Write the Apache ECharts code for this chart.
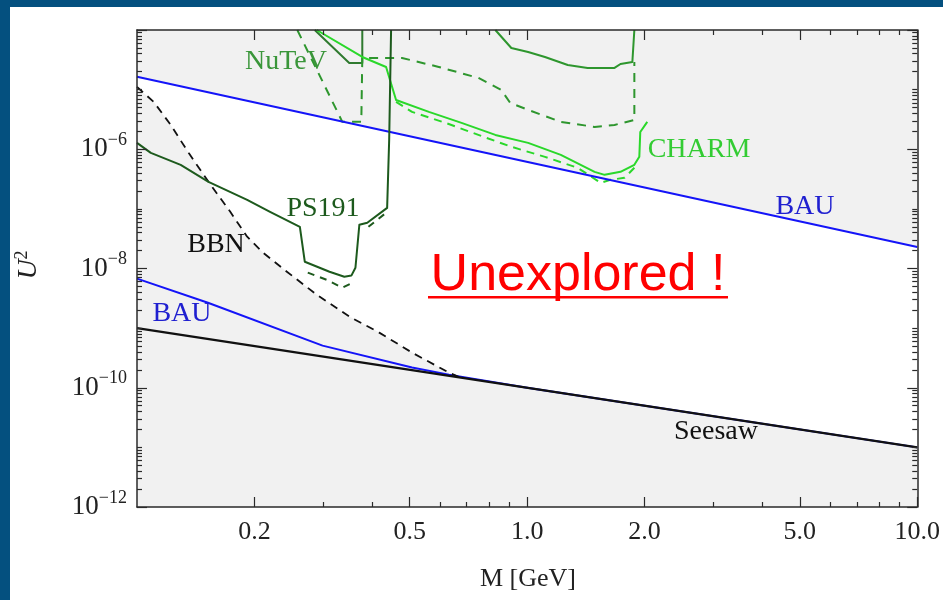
<!DOCTYPE html>
<html><head><meta charset="utf-8">
<script src="https://cdn.jsdelivr.net/npm/echarts@6/dist/echarts.min.js"></script>
<style>html,body{margin:0;padding:0;background:#fff;overflow:hidden}#c{width:943px;height:600px}</style>
</head><body><div id="c"></div>
<script>
// ---- tick values ----
const xMajorTicks = [0.2, 0.5, 1, 2, 5, 10];
const xMinorTicks = [0.3, 0.4, 0.6, 0.7, 0.8, 0.9, 3, 4, 6, 7, 8, 9];
const yLabelTicks = [1e-12, 1e-10, 1e-8, 1e-6];
const yMajorTicks = [1e-12, 1e-10, 1e-8, 1e-6, 1e-4];

// ---- curves (M in GeV, U^2) ----
const bauUpperM = [0.1, 10];
const bauUpperU2 = [1.65e-5, 2.3e-8];

const bauLowerM = [0.1, 0.152, 0.299, 0.507, 0.63, 1.0, 10];
const bauLowerU2 = [6.75e-9, 2.67e-9, 5.09e-10, 2.18e-10, 1.66e-10, 1.0e-10, 1.0e-11];

const seesawM = [0.1, 10];
const seesawU2 = [1e-9, 1e-11];

const bbnM = [0.1, 0.1104, 0.122, 0.1356, 0.1525, 0.1734, 0.1916, 0.2104, 0.2422, 0.2888, 0.3503, 0.4177, 0.5069, 0.6295, 0.675];
const bbnU2 = [1.11e-5, 6.22e-6, 2.56e-6, 8.7e-7, 2.84e-7, 8.93e-8, 3.41e-8, 1.84e-8, 8.83e-9, 3.64e-9, 1.56e-9, 8.41e-10, 3.89e-10, 1.80e-10, 1.48e-10];

const ps191M = [0.1, 0.1085, 0.1294, 0.1525, 0.1916, 0.2193, 0.2615, 0.2692, 0.3115, 0.340, 0.3544, 0.363, 0.3715, 0.3893, 0.4377, 0.443, 0.448];
const ps191U2 = [1.28e-6, 8.7e-7, 5.48e-7, 2.84e-7, 1.42e-7, 8.93e-8, 5.01e-8, 1.30e-8, 8.83e-9, 7.29e-9, 7.6e-9, 1.03e-8, 5.42e-8, 5.85e-8, 1.04e-7, 1.44e-6, 1e-4];

const ps191DashAM = [0.274, 0.306, 0.336, 0.3524];
const ps191DashAU2 = [8.51e-9, 6.48e-9, 4.76e-9, 5.56e-9];
const ps191DashBM = [0.392, 0.435];
const ps191DashBU2 = [5.0e-8, 8.6e-8];

const nutevDashM = [0.2576, 0.336, 0.3758, 0.378, 0.478, 0.5937, 0.7503, 0.8587, 0.905, 1.006, 1.22, 1.489, 1.675, 1.883, 1.883];
const nutevDashU2 = [1e-4, 2.88e-6, 2.88e-6, 3.40e-5, 3.40e-5, 2.40e-5, 1.57e-5, 9.88e-6, 5.98e-6, 4.57e-6, 2.88e-6, 2.37e-6, 2.56e-6, 3.10e-6, 2.91e-5];

const nutevSolidM = [0.829, 0.911, 1.006, 1.111, 1.271, 1.429, 1.675, 1.735, 1.861, 1.883, 1.883];
const nutevSolidU2 = [1e-4, 4.99e-5, 4.28e-5, 3.53e-5, 2.59e-5, 2.31e-5, 2.31e-5, 2.69e-5, 2.91e-5, 2.91e-5, 1e-4];

const nutevVM = [0.2855, 0.350, 0.378, 0.378];
const nutevVU2 = [1e-4, 2.80e-5, 2.80e-5, 1e-4];

const charmSolidM = [0.2888, 0.378, 0.435, 0.4508, 0.4614, 0.560, 0.679, 0.829, 1.006, 1.22, 1.489, 1.58, 1.735, 1.883, 1.939, 1.95, 2.032];
const charmSolidU2 = [1e-4, 3.53e-5, 2.40e-5, 1.11e-5, 6.71e-6, 4.23e-6, 2.77e-6, 1.74e-6, 1.28e-6, 8.05e-7, 4.18e-7, 3.72e-7, 4.18e-7, 5.48e-7, 7.46e-7, 1.95e-6, 2.88e-6];

const charmDashM = [0.4614, 0.507, 0.618, 0.750, 0.911, 1.111, 1.348, 1.543, 1.636, 1.776, 1.883];
const charmDashU2 = [6.22e-6, 4.23e-6, 2.77e-6, 1.74e-6, 1.10e-6, 7.46e-7, 4.88e-7, 2.74e-7, 3.07e-7, 3.32e-7, 4.88e-7];

// ---- styling ----
const SERIF = '"Liberation Serif", "DejaVu Serif", serif';
const C_BLUE = '#1414f8';
const C_DARK = '#1d5a1d';
const C_NUTEV = '#2e962e';
const C_NUTEV_V = '#2f7a2f';
const C_CHARM = '#2ad82a';
const AX = '#2a2a2a';

const yMinorTicks = [];
for (let e = -12; e <= -5; e++) {
  for (let k = 1; k <= 9; k++) {
    const v = k * Math.pow(10, e);
    if (k === 1 && e % 2 === 0) continue;
    yMinorTicks.push(v);
  }
}

const pairs = (M, U) => M.map((m, i) => [m, U[i]]);

function lineSeries(M, U, color, width, dash, z) {
  return {
    type: 'line', data: pairs(M, U), xAxisIndex: 0, yAxisIndex: 0,
    symbol: 'none', silent: true, z: z || 3, animation: false,
    lineStyle: { color: color, width: width, type: dash ? dash : 'solid', cap: 'butt', join: 'round' }
  };
}

function xAxisDef(pos, ticks, len, labels, showLine) {
  return {
    type: 'log', logBase: 10, min: 0.1, max: 10, position: pos, gridIndex: 0, z: 10,
    axisLine: { show: showLine, onZero: false, lineStyle: { color: AX, width: 1.5 } },
    axisTick: { show: true, inside: true, length: len, customValues: ticks, lineStyle: { color: AX, width: 1.2 } },
    axisLabel: labels ? {
      show: true, customValues: xMajorTicks, margin: 12,
      formatter: v => (+v).toFixed(1),
      fontFamily: SERIF, fontSize: 26, color: '#222'
    } : { show: false },
    splitLine: { show: false }, minorTick: { show: false }
  };
}
function yAxisDef(pos, ticks, len, labels, showLine) {
  return {
    type: 'log', logBase: 10, min: 1e-12, max: 1e-4, position: pos, gridIndex: 0, z: 10,
    axisLine: { show: showLine, onZero: false, lineStyle: { color: AX, width: 1.5 } },
    axisTick: { show: true, inside: true, length: len, customValues: ticks, lineStyle: { color: AX, width: 1.2 } },
    axisLabel: labels ? {
      show: true, customValues: yLabelTicks, margin: 10,
      formatter: v => '{b|10}{s|−' + Math.round(-Math.log10(v)) + '}',
      rich: {
        b: { fontFamily: SERIF, fontSize: 27, color: '#222', lineHeight: 36 },
        s: { fontFamily: SERIF, fontSize: 18, color: '#222', lineHeight: 18, verticalAlign: 'top' }
      }
    } : { show: false },
    splitLine: { show: false }, minorTick: { show: false }
  };
}

const chart = echarts.init(document.getElementById('c'), null, { renderer: 'canvas' });

function txt(text, x, y, color, size, extra) {
  return Object.assign({
    type: 'text', x: x, y: y, z: 50,
    style: { text: text, fill: color, font: size + 'px ' + SERIF, textAlign: 'center', textVerticalAlign: 'middle', align: 'center', verticalAlign: 'middle' }
  }, extra || {});
}

chart.setOption({
  animation: false,
  backgroundColor: '#ffffff',
  grid: { left: 137, right: 21, top: 30, bottom: 93, show: true, backgroundColor: '#f1f1f1', borderWidth: 0 },
  xAxis: [
    xAxisDef('bottom', xMajorTicks, 10, true, true),
    xAxisDef('bottom', xMinorTicks, 5, false, false),
    xAxisDef('top', xMajorTicks, 10, false, true),
    xAxisDef('top', xMinorTicks, 5, false, false)
  ],
  yAxis: [
    yAxisDef('left', yMajorTicks, 10, true, true),
    yAxisDef('left', yMinorTicks, 5, false, false),
    yAxisDef('right', yMajorTicks, 10, false, true),
    yAxisDef('right', yMinorTicks, 5, false, false)
  ],
  series: [
    {
      type: 'custom', coordinateSystem: 'cartesian2d', xAxisIndex: 0, yAxisIndex: 0,
      data: [0], silent: true, z: 1, animation: false,
      renderItem: function (params, api) {
        const pts = [];
        for (let i = 0; i < bauUpperM.length; i++) pts.push(api.coord([bauUpperM[i], bauUpperU2[i]]));
        pts.push(api.coord([seesawM[seesawM.length - 1], seesawU2[seesawU2.length - 1]]));
        for (let i = bbnM.length - 1; i >= 0; i--) pts.push(api.coord([bbnM[i], bbnU2[i]]));
        return { type: 'polygon', shape: { points: pts }, style: { fill: '#ffffff', stroke: null } };
      }
    },
    lineSeries(bauLowerM, bauLowerU2, C_BLUE, 2, null, 3),
    lineSeries(seesawM, seesawU2, '#111', 2.4, null, 4),
    lineSeries(bbnM, bbnU2, '#111', 1.8, [8, 6], 4),
    lineSeries(bauUpperM, bauUpperU2, C_BLUE, 2, null, 4),
    lineSeries(ps191DashAM, ps191DashAU2, C_DARK, 2, [7, 6], 3),
    lineSeries(ps191DashBM, ps191DashBU2, C_DARK, 2, [7, 6], 3),
    lineSeries(ps191M, ps191U2, C_DARK, 2, null, 5),
    lineSeries(nutevVM, nutevVU2, C_NUTEV_V, 2, null, 3),
    lineSeries(nutevDashM, nutevDashU2, C_NUTEV, 2, [9, 7], 3),
    lineSeries(nutevSolidM, nutevSolidU2, C_NUTEV, 2, null, 3),
    lineSeries(charmDashM, charmDashU2, C_CHARM, 2, [8, 6], 3),
    lineSeries(charmSolidM, charmSolidU2, C_CHARM, 2, null, 4)
  ],
  graphic: [
    { type: 'rect', z: 100, shape: { x: 0, y: 0, width: 943, height: 7 }, style: { fill: '#04507f' } },
    { type: 'rect', z: 100, shape: { x: 0, y: 0, width: 10, height: 600 }, style: { fill: '#04507f' } },
    txt('NuTeV', 286, 62, '#3a963a', 28),
    txt('CHARM', 699, 150, '#33cc33', 28),
    txt('BAU', 805, 207, '#2020d0', 28),
    txt('PS191', 323, 209, C_DARK, 28),
    txt('BBN', 216, 245, '#111', 28),
    txt('BAU', 182, 314, '#2020d0', 28),
    txt('Seesaw', 716, 432, '#111', 28),
    {
      type: 'text', x: 578, y: 276, z: 50,
      style: { text: 'Unexplored !', fill: '#ff0000', font: '52px "Liberation Sans", Arial, sans-serif', textAlign: 'center', textVerticalAlign: 'middle', align: 'center', verticalAlign: 'middle' }
    },
    { type: 'rect', z: 50, shape: { x: 428, y: 296, width: 300, height: 2.5 }, style: { fill: '#ff0000' } },
    txt('M [GeV]', 528, 579, '#222', 26),
    {
      type: 'text', x: 29, y: 265, z: 50, rotation: Math.PI / 2,
      style: {
        text: '{i|U}{s|2}', align: 'center', verticalAlign: 'middle', textAlign: 'center', textVerticalAlign: 'middle',
        rich: {
          i: { fontFamily: SERIF, fontStyle: 'italic', fontSize: 28, fill: '#222', color: '#222', lineHeight: 32 },
          s: { fontFamily: SERIF, fontSize: 18, fill: '#222', color: '#222', lineHeight: 18, verticalAlign: 'top' }
        }
      }
    }
  ]
});
</script></body></html>
